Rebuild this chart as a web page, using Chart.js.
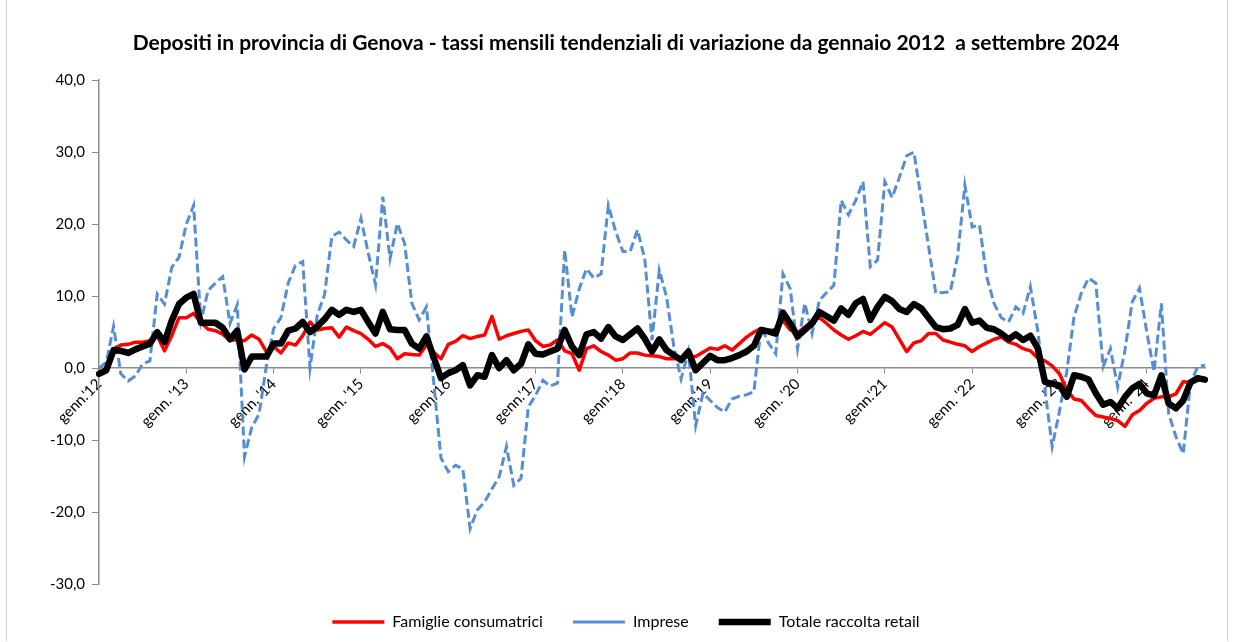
<!DOCTYPE html>
<html>
<head>
<meta charset="utf-8">
<script src="https://cdn.jsdelivr.net/npm/chart.js@4.4.1/dist/chart.umd.min.js"></script>
<style>
  html, body { margin: 0; padding: 0; background: #fff; }
  #wrap { position: relative; width: 1234px; height: 642px; }
  #frame { position: absolute; left: 6px; top: 0; width: 1220px; height: 641px;
           border-left: 1px solid #d0d0d0; border-right: 1px solid #d0d0d0; pointer-events: none; }
</style>
</head>
<body>
<div id="wrap"><canvas id="chart"></canvas><div id="frame"></div></div>
<script>
// months from gennaio 2012 to settembre 2024
var years = ['12', '13', '14', '15', '16', '17', '18', '19', '20', '21', '22', '23', '24'];
var months = ['gen', 'feb', 'mar', 'apr', 'mag', 'giu', 'lug', 'ago', 'set', 'ott', 'nov', 'dic'];
var janLabels = ["genn.'12", "genn. '13", "genn. '14", "genn. '15", "genn.'16", "genn.'17", "genn.'18",
                 "genn.'19", "genn. '20", "genn.'21", "genn. '22", "genn. '23", "genn. '24"];

// Famiglie consumatrici
var famiglie = [
  -0.8, -0.3, 2.6, 3.2, 3.3, 3.6, 3.6, 3.8, 4.5, 2.4, 4.5, 7.0,
  7.0, 7.6, 6.3, 5.4, 5.2, 4.7, 3.9, 3.9, 3.8, 4.6, 4.0, 2.3,
  3.0, 2.1, 3.5, 3.2, 4.5, 6.4, 5.3, 5.5, 5.6, 4.3, 5.7, 5.2,
  4.8, 4.0, 3.0, 3.4, 2.8, 1.3, 2.0, 1.9, 1.8, 3.2, 2.2, 1.3,
  3.3, 3.7, 4.5, 4.1, 4.4, 4.6, 7.2, 4.0, 4.5, 4.8, 5.1, 5.3,
  3.8, 3.0, 3.2, 3.9, 2.4, 2.0, -0.3, 2.7, 3.1, 2.3, 1.8, 1.1,
  1.3, 2.1, 2.1, 1.8, 1.7, 1.6, 1.3, 1.3, 1.5, 1.6, 1.6, 2.2,
  2.8, 2.6, 3.1, 2.5, 3.4, 4.3, 5.0, 5.5, 5.1, 5.4, 6.6, 5.3,
  4.9, 5.7, 6.5, 7.0, 6.2, 5.3, 4.6, 4.0, 4.5, 5.1, 4.7, 5.5,
  6.3, 5.7, 4.0, 2.3, 3.5, 3.8, 4.8, 4.8, 3.9, 3.6, 3.3, 3.1,
  2.3, 3.0, 3.5, 4.0, 4.3, 3.6, 3.3, 2.7, 2.4, 1.4, 1.0, 0.3,
  -0.8, -3.0, -4.3, -4.5, -5.6, -6.6, -6.8, -7.0, -7.3, -8.1, -6.5, -5.9,
  -4.9, -4.2, -4.0, -4.0, -3.6, -1.9, -2.0, -1.7, -1.4
];

// Imprese
var imprese = [
  0.0, 0.8, 5.8, -0.8, -1.8, -1.1, 0.6, 1.0, 10.3, 8.9, 14.0, 15.4,
  20.0, 22.6, 6.5, 10.8, 11.8, 12.7, 6.2, 8.8, -12.3, -8.2, -6.4, 0.3,
  5.5, 7.0, 11.8, 14.3, 14.8, 0.0, 7.4, 10.2, 18.3, 18.9, 17.8, 16.9,
  20.8, 16.0, 11.6, 23.8, 15.2, 20.1, 17.3, 9.0, 6.7, 8.5, -2.0, -12.5,
  -14.4, -13.5, -14.0, -22.3, -19.7, -18.6, -16.8, -15.1, -10.9, -16.3, -15.3, -5.4,
  -3.8, -1.7, -2.5, -2.1, 16.4, 7.1, 11.0, 13.8, 12.5, 13.1, 22.6, 19.0,
  16.2, 16.2, 19.2, 15.2, 3.9, 13.6, 9.9, 3.0, -1.5, 2.3, -8.0, -3.5,
  -4.5, -5.5, -6.1, -4.3, -3.9, -3.7, -3.3, 5.7, 3.5, 2.0, 13.1, 11.0,
  2.7, 9.0, 4.8, 9.4, 10.5, 11.5, 23.3, 21.3, 23.3, 25.9, 14.1, 15.0,
  25.9, 23.7, 26.5, 29.5, 30.0, 23.5, 17.0, 10.4, 10.5, 10.6, 15.5, 25.4,
  19.6, 19.9, 12.7, 9.0, 7.0, 6.4, 8.5, 7.6, 11.3, 5.3, -3.0, -10.9,
  -6.0, -0.5, 7.1, 10.4, 12.5, 11.8, 0.2, 2.7, -2.6, 2.5, 9.2, 11.1,
  5.0, -0.5, 9.0, -6.3, -9.5, -11.9, -2.1, 0.2, 0.4
];

// Totale raccolta retail
var totale = [
  -0.8, -0.3, 2.5, 2.4, 2.1, 2.6, 3.0, 3.4, 5.0, 3.6, 6.6, 8.9,
  9.8, 10.3, 6.3, 6.3, 6.3, 5.6, 4.0, 5.2, -0.2, 1.6, 1.6, 1.6,
  3.4, 3.4, 5.2, 5.5, 6.4, 5.0, 5.8, 6.8, 8.1, 7.4, 8.1, 7.8,
  8.1, 6.4, 4.8, 7.8, 5.4, 5.3, 5.3, 3.4, 2.7, 4.4, 1.5, -1.4,
  -0.7, -0.3, 0.4, -2.4, -1.0, -1.2, 1.8, 0.0, 1.1, -0.3, 0.6, 3.3,
  2.0, 1.9, 2.3, 2.7, 5.3, 3.0, 1.8, 4.7, 5.0, 4.1, 5.7, 4.4,
  3.9, 4.7, 5.5, 4.1, 2.3, 4.0, 2.5, 1.8, 1.1, 2.3, -0.3, 0.7,
  1.7, 1.1, 1.1, 1.4, 1.8, 2.3, 3.1, 5.3, 5.1, 4.8, 7.7, 6.2,
  4.4, 5.3, 6.2, 7.8, 7.2, 6.6, 8.3, 7.4, 9.0, 9.6, 6.7, 8.5,
  9.9, 9.3, 8.2, 7.8, 8.9, 8.3, 7.0, 5.7, 5.4, 5.5, 6.0, 8.2,
  6.3, 6.6, 5.6, 5.4, 4.8, 4.0, 4.7, 3.9, 4.5, 2.8, -1.9, -2.2,
  -2.4, -4.0, -1.0, -1.2, -1.6, -3.5, -5.1, -4.7, -5.6, -4.0, -2.8, -2.2,
  -3.5, -3.8, -1.0, -4.9, -5.6, -4.5, -2.0, -1.4, -1.6
];

var categories = [];
years.forEach(function (y) {
  months.forEach(function (m) { categories.push(m + " '" + y); });
});
categories = categories.slice(0, famiglie.length);

var font = 'Lato, "DejaVu Sans", sans-serif';
var axisGrey = '#8c8c8c';

var ctx = document.getElementById('chart').getContext('2d');
var chart = new Chart(ctx, {
  type: 'line',
  data: {
    labels: categories,
    datasets: [{
      label: 'Famiglie consumatrici',
      data: famiglie,
      borderColor: '#ff0000',
      backgroundColor: '#ff0000',
      borderWidth: 3.5,
      borderJoinStyle: 'round',
      pointRadius: 0,
      order: 1
    }, {
      label: 'Imprese',
      data: imprese,
      borderColor: '#558ed5',
      backgroundColor: '#558ed5',
      borderWidth: 3,
      borderDash: [9, 4],
      pointRadius: 0,
      order: 2
    }, {
      label: 'Totale raccolta retail',
      data: totale,
      borderColor: '#000000',
      backgroundColor: '#000000',
      borderWidth: 6.5,
      borderJoinStyle: 'round',
      borderCapStyle: 'round',
      pointRadius: 0,
      order: 0
    }]
  },
  options: {
    responsive: true,
    maintainAspectRatio: false,
    animation: false,
    layout: { padding: { left: 47, right: 29, top: 0, bottom: 2 } },
    plugins: {
      title: {
        display: true,
        text: 'Depositi in provincia di Genova - tassi mensili tendenziali di variazione da gennaio 2012  a settembre 2024',
        color: '#000',
        font: { family: font, size: 21, weight: 'bold' },
        padding: { top: 31, bottom: 24 }
      },
      legend: {
        position: 'bottom',
        labels: {
          usePointStyle: true,
          pointStyle: 'line',
          pointStyleWidth: 52,
          color: '#000',
          padding: 30,
          font: { family: font, size: 16 },
          sort: function (a, b) { return a.datasetIndex - b.datasetIndex; }
        }
      },
      tooltip: { enabled: false }
    },
    scales: {
      x: {
        type: 'category',
        position: { y: 0 },
        offset: false,
        grid: { drawOnChartArea: false, drawTicks: true, tickLength: 5, color: axisGrey },
        border: { color: axisGrey, width: 1.5 },
        ticks: {
          autoSkip: false,
          maxRotation: 45,
          minRotation: 45,
          padding: 2,
          color: '#000',
          font: { family: font, size: 15 },
          callback: function (value, index) {
            return index % 12 === 0 ? janLabels[index / 12] : null;
          }
        }
      },
      y: {
        min: -30,
        max: 40,
        afterFit: function (scale) { scale.width = 52; },
        grid: { drawOnChartArea: false, drawTicks: true, tickLength: 7, color: axisGrey },
        border: { color: axisGrey, width: 1.5 },
        ticks: {
          stepSize: 10,
          padding: 7,
          color: '#000',
          font: { family: font, size: 15 },
          callback: function (v) { return v.toFixed(1).replace('.', ','); }
        }
      }
    }
  }
});
</script>
</body>
</html>
